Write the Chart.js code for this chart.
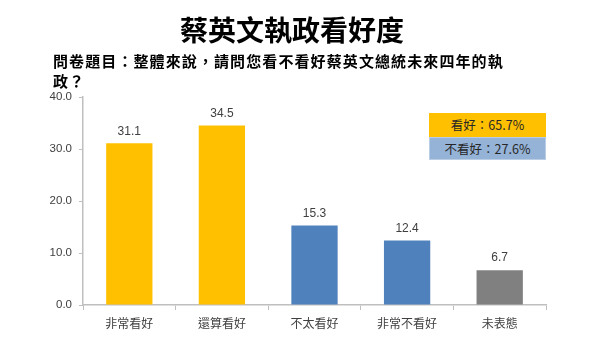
<!DOCTYPE html>
<html><head><meta charset="utf-8">
<script src="https://cdn.jsdelivr.net/npm/chart.js@4/dist/chart.umd.min.js"></script>
<style>
html,body{margin:0;padding:0;background:#fff;}
#wrap{position:relative;width:600px;height:361px;overflow:hidden;}
#c{position:absolute;left:0;top:0;}
.t{position:absolute;white-space:nowrap;font-family:"Noto Sans CJK TC","Noto Sans CJK SC",sans-serif;}
#title{left:0;width:584px;text-align:center;top:11px;font-size:28px;font-weight:700;color:#000;line-height:36px;}
#sub{left:53px;top:51px;font-size:15px;font-weight:700;color:#000;line-height:20px;letter-spacing:1.1px;}
.box{position:absolute;left:429px;width:117px;height:24px;line-height:24px;text-align:center;font-family:"Noto Sans CJK TC",sans-serif;font-size:12.5px;color:#262626;box-sizing:border-box;}
#b1{top:113px;background:#FFC000;}
#b2{top:137px;background:#95B3D7;border:1px solid #B9CDE5;height:23px;line-height:21px;}
</style></head>
<body><div id="wrap">
<canvas id="c" width="600" height="361"></canvas>
<div class="t" id="title">蔡英文執政看好度</div>
<div class="t" id="sub">問卷題目：整體來說，請問您看不看好蔡英文總統未來四年的執<br>政？</div>
<div class="box" id="b1">看好：65.7%</div>
<div class="box" id="b2">不看好：27.6%</div>
</div>
<script>
const categories = ["非常看好","還算看好","不太看好","非常不看好","未表態"];
const values = [31.1, 34.5, 15.3, 12.4, 6.7];
const barColors = ["#FFC000","#FFC000","#4F81BD","#4F81BD","#808080"];
const yTicks = [0, 10, 20, 30, 40];

const labelPlugin = {
  id: 'valueLabels',
  afterDatasetsDraw(chart) {
    const ctx = chart.ctx;
    const meta = chart.getDatasetMeta(0);
    ctx.save();
    ctx.font = '12px "Liberation Sans", "Noto Sans CJK TC", sans-serif';
    ctx.fillStyle = '#404040';
    ctx.textAlign = 'center';
    ctx.textBaseline = 'middle';
    meta.data.forEach((bar, i) => {
      ctx.fillText(values[i].toFixed(1), bar.x, bar.y - 12);
    });
    ctx.restore();
  }
};

new Chart(document.getElementById('c'), {
  type: 'bar',
  data: {
    labels: categories,
    datasets: [{
      data: values,
      backgroundColor: barColors,
      borderWidth: 0,
      categoryPercentage: 1.0,
      barPercentage: 0.5
    }]
  },
  options: {
    responsive: false,
    animation: false,
    layout: { padding: { left: 0, top: 97, right: 54, bottom: 0 } },
    plugins: { legend: { display: false }, tooltip: { enabled: false }, title: { display: false } },
    scales: {
      x: {
        grid: { display: true, offset: true, drawOnChartArea: false, drawTicks: true, tickLength: 5, color: '#BFBFBF' },
        border: { display: true, color: '#BFBFBF', width: 1.5 },
        ticks: { color: '#404040', padding: 6, font: { size: 12, family: '"Noto Sans CJK TC", sans-serif' }, maxRotation: 0 },
        afterFit(scale) { scale.height = 56; }
      },
      y: {
        min: 0, max: 40,
        afterBuildTicks(scale) { scale.ticks = yTicks.map(v => ({ value: v })); },
        grid: { display: true, drawOnChartArea: false, drawTicks: true, tickLength: 4, color: '#BFBFBF' },
        border: { display: true, color: '#BFBFBF', width: 1.5 },
        ticks: { color: '#404040', padding: 7, font: { size: 11.5, family: '"Liberation Sans", sans-serif' }, callback: v => Number(v).toFixed(1) },
        afterFit(scale) { scale.width = 83; }
      }
    }
  },
  plugins: [labelPlugin]
});
</script>
</body></html>
